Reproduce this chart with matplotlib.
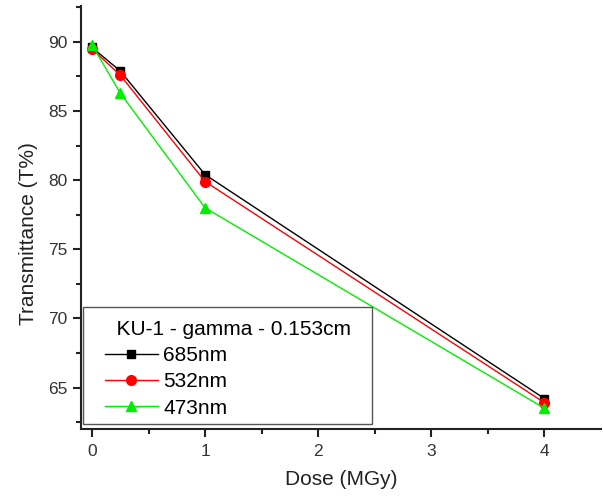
import numpy as np
import matplotlib.pyplot as plt
from matplotlib.patches import Rectangle

plt.rcParams['font.family'] = ['Liberation Sans', 'DejaVu Sans']

dose = [0, 0.25, 1, 4]
t_685 = [89.6, 87.9, 80.4, 64.2]
t_532 = [89.5, 87.6, 79.9, 63.9]
t_473 = [89.8, 86.3, 78.0, 63.5]

fig = plt.figure(figsize=(6.03, 4.99), dpi=100)
ax = fig.add_axes([0.1343, 0.1403, 0.8624, 0.8477])

ax.plot(dose, t_685, color='black', marker='s', ms=6, lw=1, label='685nm')
ax.plot(dose, t_532, color='red', marker='o', ms=7, lw=1, label='532nm')
ax.plot(dose, t_473, color='#00ee00', marker='^', ms=7, lw=1, label='473nm')

ax.set_xlim(-0.097, 4.5)
ax.set_ylim(62.0, 92.6)
ax.set_xticks([0, 1, 2, 3, 4])
ax.set_xticks(np.arange(0.5, 4.5, 1), minor=True)
ax.set_yticks([65, 70, 75, 80, 85, 90])
ax.set_yticks([62.5, 67.5, 72.5, 77.5, 82.5, 87.5, 92.5], minor=True)

for s in ['top', 'right']:
    ax.spines[s].set_visible(False)
for s in ['left', 'bottom']:
    ax.spines[s].set_linewidth(1.5)
    ax.spines[s].set_color('#222222')

ax.tick_params(which='major', direction='out', length=6, width=1.5, color='#222222',
               labelsize=12.5, labelcolor='#333333')
ax.tick_params(axis='x', which='major', pad=5)
ax.tick_params(which='minor', direction='out', length=3.5, width=1.5, color='#222222')

ax.set_xlabel('Dose (MGy)', fontsize=15, color='#222222', labelpad=8)
ax.set_ylabel('Transmittance (T%)', fontsize=15, color='#222222')
ax.yaxis.set_label_coords(-0.083, 0.461)

# legend frame (drawn separately so the padding can differ per side)
frame = Rectangle((0.004, 0.012), 0.556, 0.277, transform=ax.transAxes,
                  facecolor='white', edgecolor='#555555', lw=1, zorder=4)
ax.add_patch(frame)

leg = ax.legend(title='  KU-1 - gamma - 0.153cm', loc='upper left',
                bbox_to_anchor=(0.046, 0.258), borderaxespad=0, borderpad=0,
                fontsize=15, title_fontsize=15, frameon=False,
                handlelength=2.55, labelspacing=0.35, handletextpad=0.25)
leg._legend_box.align = 'left'
leg.set_zorder(5)

fig.savefig('out.png', dpi=100)
